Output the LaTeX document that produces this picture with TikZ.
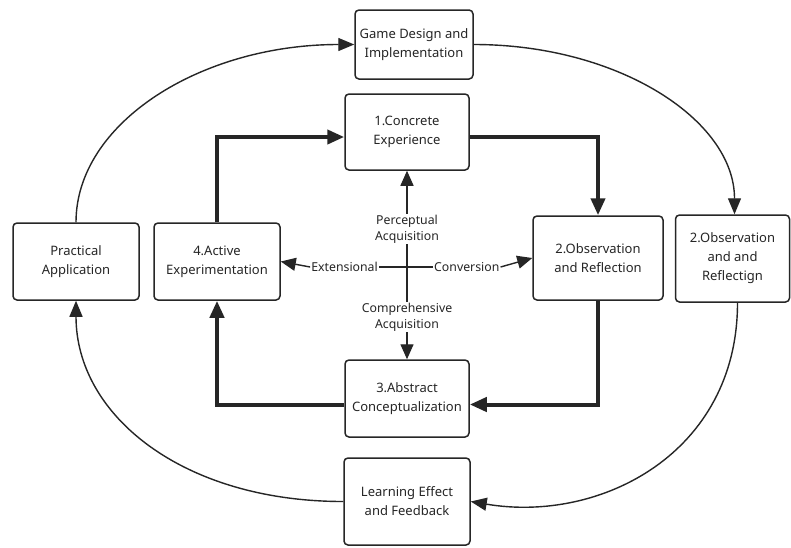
\documentclass[tikz,border=0pt]{standalone}
\usepackage{fontspec}
\setmainfont{Noto Sans}
\usetikzlibrary{arrows.meta,calc}
\begin{document}
\begin{tikzpicture}[x=1pt,y=1pt,
  box/.style={draw=black!85,line width=1.5pt,rounded corners=4pt,align=center,
    font=\fontsize{13}{19}\selectfont,text=black!85,inner sep=2pt},
  thickarrow/.style={line width=4pt,draw=black!85,-{Triangle[length=17pt,width=14pt]}},
  thinarrow/.style={line width=1.4pt,draw=black!85,-{Triangle[length=16pt,width=13pt]}},
  crossarrow/.style={line width=1.4pt,draw=black!85,-{Triangle[length=15pt,width=13pt]}},
  lbl/.style={font=\fontsize{12.3}{16}\selectfont,text=black!85,align=center,inner sep=1pt}]
\useasboundingbox (0,0) rectangle (791,-547);
\fill[white] (0,0) rectangle (791,-547);
% boxes
\node[box,minimum width=118pt,minimum height=69pt] (game) at (414,-44.5) {Game Design and\\Implementation};
\node[box,minimum width=124pt,minimum height=76pt] (ce) at (407,-132) {1.Concrete\\Experience};
\node[box,minimum width=130pt,minimum height=84pt] (or) at (598,-258) {2.Observation\\and Reflection};
\node[box,minimum width=114pt,minimum height=87pt] (or2) at (732.5,-258.5) {2.Observation\\and and\\Reflectign};
\node[box,minimum width=126pt,minimum height=77pt] (pa) at (76,-261.5) {Practical\\Application};
\node[box,minimum width=126pt,minimum height=77pt] (ae) at (217,-261.5) {4.Active\\Experimentation};
\node[box,minimum width=124pt,minimum height=77pt] (ac) at (407,-398.5) {3.Abstract\\Conceptualization};
\node[box,minimum width=126pt,minimum height=87pt] (lef) at (407,-501.5) {Learning Effect\\and Feedback};
% central cross labels
\node[lbl] (perc) at (407,-229) {Perceptual\\Acquisition};
\node[lbl] (comp) at (407,-317) {Comprehensive\\Acquisition};
\node[lbl,anchor=east] (ext) at (379,-267) {Extensional};
\node[lbl,anchor=west] (conv) at (433,-267) {Conversion};
\draw[line width=1.4pt,draw=black!85] (perc.south) -- (comp.north);
\draw[line width=1.4pt,draw=black!85] (ext.east) -- (conv.west);
\draw[crossarrow] (perc.north) -- (ce.south);
\draw[crossarrow] (comp.south) -- (ac.north);
\draw[crossarrow] (ext.west) -- (ae.east);
\draw[crossarrow] (conv.east) -- (or.west);
% thick cycle
\draw[thickarrow] (ae.north) |- ([yshift=-5pt]ce.west);
\draw[thickarrow] ([yshift=-5pt]ce.east) -| (or.north);
\draw[thickarrow] (or.south) |- ([yshift=-6pt]ac.east);
\draw[thickarrow] ([yshift=-6pt]ac.west) -| (ae.south);
% outer curves
\draw[thinarrow] (pa.north) .. controls +(0,99) and +(-154,0) .. (game.west);
\draw[thinarrow] (game.east) .. controls +(145,0) and +(0,94) .. ([xshift=2pt]or2.north);
\draw[thinarrow] ([xshift=5pt]or2.south) .. controls +(0,-150) and +(130,-22) .. (lef.east);
\draw[thinarrow] (lef.west) .. controls +(-160,0) and +(0,-115) .. (pa.south);
\end{tikzpicture}
\end{document}
